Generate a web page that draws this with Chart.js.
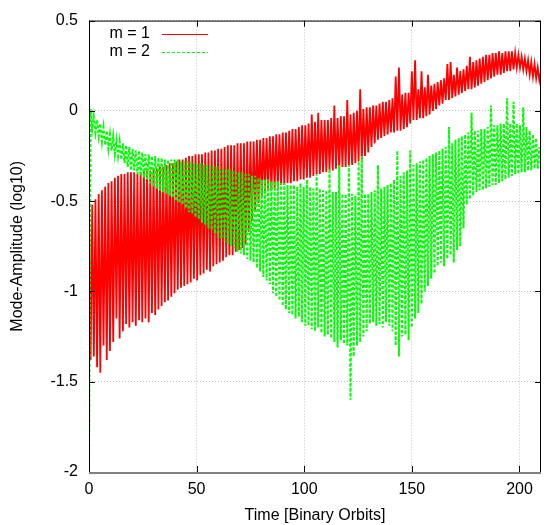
<!DOCTYPE html>
<html>
<head>
<meta charset="utf-8">
<script src="https://cdn.jsdelivr.net/npm/chart.js@4.4.1/dist/chart.umd.min.js"></script>
<style>
html, body { margin: 0; padding: 0; background: #fff; }
</style>
</head>
<body>
<canvas id="modeChart" width="556" height="525"></canvas>
<script>
// Mode amplitudes (log10).
// One oscillation every 1.5 orbits: a crest and a trough per step.
var seriesLabels = ['m = 1', 'm = 2'];
var xTicks = [0, 50, 100, 150, 200];
var yTicks = [0.5, 0, -0.5, -1, -1.5, -2];
var orbitStep = 1.5;

// m = 1 : crests at t = 1.5*i, troughs half a step later
var m1High = [
	-0.55, -0.52, -0.49, -0.46, -0.44, -0.42, -0.40, -0.39, -0.37, -0.36,
	-0.35, -0.35, -0.34, -0.34, -0.34, -0.35, -0.34, -0.33, -0.33, -0.33,
	-0.32, -0.32, -0.31, -0.31, -0.30, -0.29, -0.29, -0.28, -0.27, -0.27,
	-0.26, -0.25, -0.25, -0.24, -0.24, -0.24, -0.23, -0.23, -0.22, -0.22,
	-0.21, -0.21, -0.20, -0.19, -0.19, -0.19, -0.18, -0.18, -0.18, -0.17,
	-0.17, -0.17, -0.16, -0.16, -0.15, -0.15, -0.14, -0.14, -0.13, -0.13,
	-0.12, -0.12, -0.11, -0.10, -0.10, -0.09, -0.08, -0.08, -0.07, -0.02,
	-0.06, -0.01, -0.05, -0.05, -0.05, -0.04, 0.03, -0.04, -0.03, -0.03,
	0.06, -0.02, -0.01, 0.00, 0.12, 0.01, 0.02, 0.02, 0.03, 0.03,
	0.04, 0.05, 0.05, 0.06, 0.07, 0.19, 0.24, 0.09, 0.10, 0.10,
	0.22, 0.28, 0.12, 0.22, 0.13, 0.20, 0.14, 0.15, 0.16, 0.17,
	0.18, 0.26, 0.27, 0.20, 0.24, 0.22, 0.23, 0.25, 0.30, 0.27,
	0.28, 0.29, 0.30, 0.31, 0.31, 0.32, 0.32, 0.33, 0.32, 0.33,
	0.33, 0.33, 0.32, 0.31, 0.30, 0.29, 0.28, 0.27, 0.26, 0.24,
	0.22
];
var m1Low = [
	-1.38, -1.36, -1.42, -1.45, -1.30, -1.38, -1.33, -1.28, -1.15, -1.26,
	-1.22, -1.18, -1.20, -1.17, -1.19, -1.16, -1.17, -1.15, -1.17, -1.12,
	-1.13, -1.10, -1.08, -1.06, -1.05, -1.03, -1.01, -0.99, -0.98, -0.97,
	-0.96, -0.95, -0.93, -0.94, -0.91, -0.90, -0.88, -0.89, -0.86, -0.85,
	-0.84, -0.83, -0.81, -0.80, -0.80, -0.78, -0.77, -0.76, -0.74, -0.67,
	-0.61, -0.56, -0.51, -0.47, -0.45, -0.44, -0.44, -0.43, -0.42, -0.41,
	-0.41, -0.40, -0.40, -0.39, -0.39, -0.38, -0.38, -0.37, -0.37, -0.36,
	-0.35, -0.35, -0.34, -0.34, -0.33, -0.33, -0.32, -0.32, -0.31, -0.31,
	-0.30, -0.30, -0.29, -0.28, -0.27, -0.25, -0.23, -0.20, -0.18, -0.16,
	-0.15, -0.14, -0.13, -0.12, -0.12, -0.11, -0.11, -0.10, -0.09, -0.07,
	-0.05, -0.05, -0.04, -0.04, -0.03, -0.02, 0.00, 0.01, 0.03, 0.04,
	0.06, 0.06, 0.07, 0.08, 0.09, 0.10, 0.11, 0.12, 0.12, 0.13,
	0.14, 0.15, 0.16, 0.17, 0.18, 0.19, 0.20, 0.20, 0.21, 0.22,
	0.22, 0.23, 0.24, 0.24, 0.23, 0.22, 0.20, 0.19, 0.18, 0.17
];

// m = 2 : troughs at t = 1.5*i, crests half a step later
var m2Low = [
	-2.00, -0.10, -0.12, -0.14, -0.17, -0.19, -0.21, -0.22, -0.24, -0.25,
	-0.27, -0.29, -0.31, -0.33, -0.33, -0.35, -0.36, -0.37, -0.38, -0.40,
	-0.42, -0.43, -0.44, -0.45, -0.46, -0.47, -0.48, -0.50, -0.51, -0.52,
	-0.54, -0.56, -0.57, -0.59, -0.60, -0.62, -0.63, -0.65, -0.66, -0.68,
	-0.70, -0.71, -0.72, -0.74, -0.75, -0.76, -0.78, -0.79, -0.80, -0.82,
	-0.83, -0.84, -0.87, -0.89, -0.92, -0.94, -0.96, -1.01, -1.03, -1.05,
	-1.08, -1.10, -1.12, -1.13, -1.15, -1.14, -1.17, -1.19, -1.19, -1.21,
	-1.22, -1.20, -1.23, -1.25, -1.24, -1.26, -1.28, -1.31, -1.27, -1.29,
	-1.30, -1.60, -1.36, -1.30, -1.28, -1.25, -1.22, -1.18, -1.17, -1.19,
	-1.18, -1.20, -1.17, -1.19, -1.22, -1.30, -1.36, -1.25, -1.24, -1.27,
	-1.20, -1.15, -1.12, -1.07, -1.00, -0.97, -0.93, -0.90, -0.86, -0.84,
	-0.86, -0.82, -0.80, -0.84, -0.77, -0.75, -0.65, -0.52, -0.49, -0.47,
	-0.45, -0.44, -0.44, -0.43, -0.42, -0.41, -0.41, -0.40, -0.39, -0.38,
	-0.37, -0.36, -0.35, -0.35, -0.34, -0.34, -0.33, -0.33, -0.32, -0.32,
	-0.32
];
var m2High = [
	0.01, -0.03, -0.05, -0.07, -0.09, -0.11, -0.13, -0.14, -0.16, -0.17,
	-0.18, -0.19, -0.20, -0.21, -0.22, -0.22, -0.23, -0.24, -0.24, -0.25,
	-0.25, -0.26, -0.26, -0.27, -0.27, -0.27, -0.27, -0.27, -0.28, -0.28,
	-0.28, -0.28, -0.29, -0.29, -0.29, -0.30, -0.30, -0.30, -0.31, -0.31,
	-0.31, -0.32, -0.32, -0.32, -0.33, -0.33, -0.34, -0.34, -0.35, -0.35,
	-0.36, -0.36, -0.37, -0.38, -0.38, -0.38, -0.39, -0.39, -0.39, -0.40,
	-0.40, -0.41, -0.41, -0.41, -0.42, -0.40, -0.42, -0.38, -0.42, -0.43,
	-0.35, -0.43, -0.44, -0.44, -0.32, -0.45, -0.45, -0.30, -0.46, -0.46,
	-0.30, -0.46, -0.47, -0.28, -0.25, -0.46, -0.46, -0.45, -0.44, -0.30,
	-0.43, -0.42, -0.41, -0.40, -0.38, -0.22, -0.36, -0.34, -0.33, -0.22,
	-0.30, -0.29, -0.28, -0.27, -0.26, -0.25, -0.24, -0.23, -0.22, -0.21,
	-0.20, -0.09, -0.18, -0.16, -0.15, -0.14, -0.13, -0.12, -0.01, -0.11,
	-0.11, -0.10, -0.10, -0.09, 0.03, -0.08, -0.08, -0.07, -0.07, 0.07,
	-0.07, 0.05, -0.07, -0.08, 0.02, -0.09, -0.11, -0.13, -0.15, -0.20
];

var fontFamily = '"Liberation Sans", Arial, sans-serif';

// interleave the two extremes into one (time, value) trace
function toPoints(first, second) {
	var pts = [];
	for (var i = 0; i < first.length; i++) {
		pts.push({ x: i * orbitStep, y: first[i] });
		if (i < second.length) {
			pts.push({ x: i * orbitStep + orbitStep / 2, y: second[i] });
		}
	}
	return pts;
}

// gnuplot style frame: border on all sides with inward ticks
var framePlugin = {
	id: 'frame',
	afterDatasetsDraw: function(chart) {
		var ctx = chart.ctx;
		var a = chart.chartArea;
		var xs = chart.scales.x;
		var ys = chart.scales.y;
		ctx.save();
		ctx.strokeStyle = '#000';
		ctx.lineWidth = 1;
		ctx.strokeRect(a.left + 0.5, a.top + 0.5, a.right - a.left - 1, a.bottom - a.top);
		ctx.beginPath();
		xTicks.forEach(function(t) {
			var px = Math.round(xs.getPixelForValue(t)) + 0.5;
			ctx.moveTo(px, a.bottom); ctx.lineTo(px, a.bottom - 6);
			ctx.moveTo(px, a.top); ctx.lineTo(px, a.top + 6);
		});
		yTicks.forEach(function(t) {
			var py = Math.round(ys.getPixelForValue(t)) + 0.5;
			ctx.moveTo(a.left, py); ctx.lineTo(a.left + 6, py);
			ctx.moveTo(a.right, py); ctx.lineTo(a.right - 6, py);
		});
		ctx.stroke();
		ctx.strokeStyle = '#808080';
		ctx.lineWidth = 2;
		ctx.beginPath();
		ctx.moveTo(a.left, a.bottom + 1);
		ctx.lineTo(a.right, a.bottom + 1);
		ctx.stroke();
		ctx.restore();
	}
};

// key in the top left corner: label first, line sample after it
var keyPlugin = {
	id: 'key',
	afterDraw: function(chart) {
		var ctx = chart.ctx;
		ctx.save();
		ctx.font = '16px ' + fontFamily;
		ctx.textAlign = 'right';
		ctx.textBaseline = 'middle';
		ctx.fillStyle = '#000';
		chart.data.datasets.forEach(function(ds, i) {
			var y = 34 + i * 18;
			ctx.fillText(ds.label, 150, y);
			ctx.strokeStyle = ds.borderColor;
			ctx.lineWidth = 1;
			ctx.setLineDash(ds.borderDash || []);
			ctx.beginPath();
			ctx.moveTo(162, y + 0.5);
			ctx.lineTo(208, y + 0.5);
			ctx.stroke();
		});
		ctx.restore();
	}
};

var chart = new Chart(document.getElementById('modeChart'), {
	type: 'line',
	data: {
		datasets: [
			{
				label: seriesLabels[0],
				data: toPoints(m1High, m1Low),
				borderColor: '#ff0000',
				borderWidth: 1.8,
				pointRadius: 0,
				order: 1
			},
			{
				label: seriesLabels[1],
				data: toPoints(m2Low, m2High),
				borderColor: '#00ff00',
				borderWidth: 2,
				borderDash: [3, 2],
				pointRadius: 0,
				order: 0
			}
		]
	},
	options: {
		responsive: false,
		animation: false,
		layout: { padding: { top: 20, right: 15, left: 0, bottom: 0 } },
		plugins: {
			legend: { display: false },
			tooltip: { enabled: false }
		},
		scales: {
			x: {
				type: 'linear',
				min: 0,
				max: 210,
				afterFit: function(s) { s.height = 53; },
				afterBuildTicks: function(s) { s.ticks = xTicks.map(function(v) { return { value: v }; }); },
				ticks: { color: '#000', padding: 8, font: { family: fontFamily, size: 16 } },
				grid: { color: '#c0c0c0', drawTicks: false },
				border: { display: false, dash: [1, 2] },
				title: {
					display: true,
					text: 'Time [Binary Orbits]',
					color: '#000',
					padding: { top: 0, bottom: 0 },
					font: { family: fontFamily, size: 16 }
				}
			},
			y: {
				min: -2,
				max: 0.5,
				afterFit: function(s) { s.width = 89; },
				afterBuildTicks: function(s) { s.ticks = yTicks.map(function(v) { return { value: v }; }); },
				ticks: {
					color: '#000',
					padding: 11,
					font: { family: fontFamily, size: 16 },
					callback: function(v) { return String(v); }
				},
				grid: { color: '#c0c0c0', drawTicks: false },
				border: { display: false, dash: [1, 2] },
				title: {
					display: true,
					text: 'Mode-Amplitude (log10)',
					color: '#000',
					padding: { top: 8, bottom: 0 },
					font: { family: fontFamily, size: 16 }
				}
			}
		}
	},
	plugins: [framePlugin, keyPlugin]
});
</script>
</body>
</html>
